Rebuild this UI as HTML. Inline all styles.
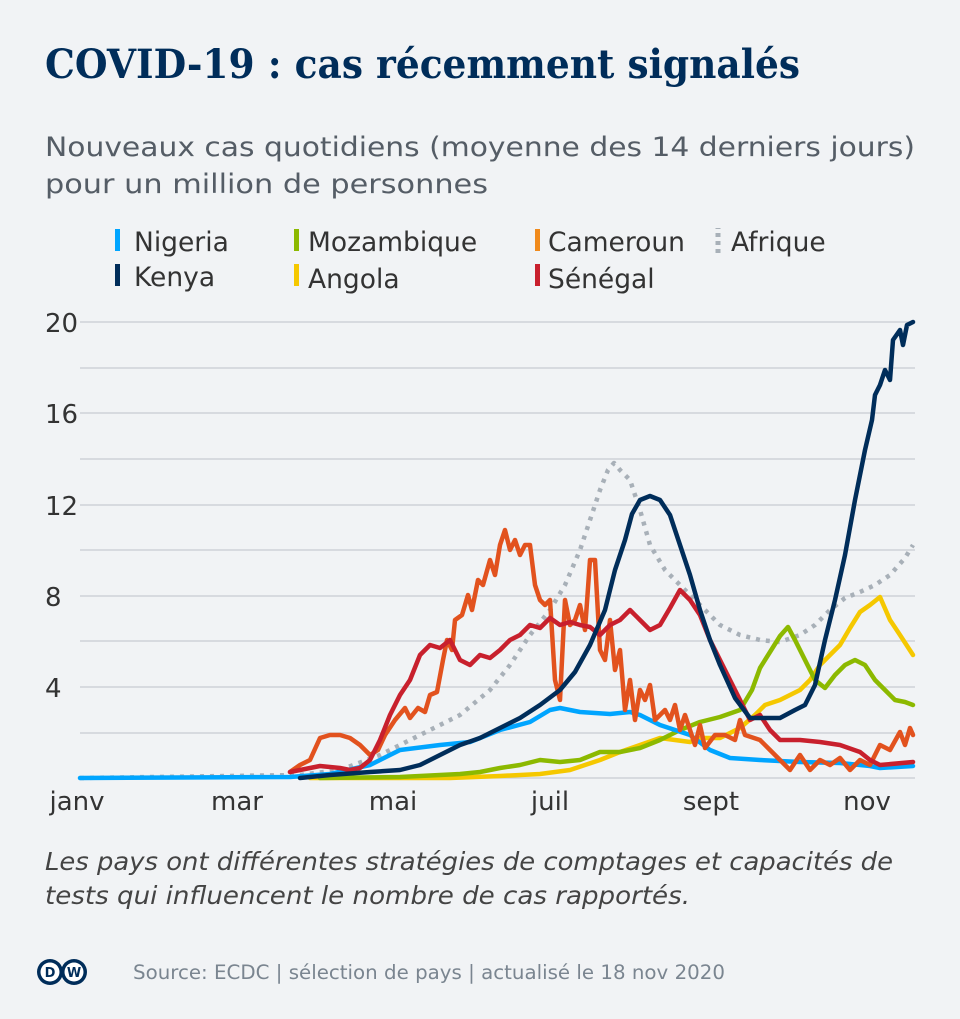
<!DOCTYPE html><html><head><meta charset="utf-8"><style>
body{margin:0;background:#f1f3f5;width:960px;height:1019px;overflow:hidden;font-family:"DejaVu Sans","Liberation Sans",sans-serif;}
</style></head><body>
<svg width="960" height="1019" xmlns="http://www.w3.org/2000/svg" style="position:absolute;left:0;top:0">
<rect width="960" height="1019" fill="#f1f3f5"/>
<text x="45" y="78" font-family="'DejaVu Serif','Liberation Serif',serif" font-weight="bold" font-size="40" fill="#002d5a" textLength="755" lengthAdjust="spacingAndGlyphs">COVID-19 : cas récemment signalés</text>
<text x="45" y="156" font-size="27" fill="#555d66" textLength="870" lengthAdjust="spacingAndGlyphs">Nouveaux cas quotidiens (moyenne des 14 derniers jours)</text>
<text x="45" y="193" font-size="27" fill="#555d66" textLength="443" lengthAdjust="spacingAndGlyphs">pour un million de personnes</text>
<g font-size="26.5" fill="#333">
<rect x="115" y="229" width="5" height="22" fill="#00a5ff"/><text x="134" y="251">Nigeria</text>
<rect x="115" y="264" width="5" height="22" fill="#002d5a"/><text x="134" y="286">Kenya</text>
<rect x="294" y="229" width="5" height="22" fill="#8cb900"/><text x="308" y="251">Mozambique</text>
<rect x="294" y="264" width="5" height="22" fill="#f5c800"/><text x="308" y="288">Angola</text>
<rect x="535" y="229" width="5" height="22" fill="#f08a1c"/><text x="548" y="251">Cameroun</text>
<rect x="535" y="264" width="5" height="22" fill="#c8202d"/><text x="548" y="288">Sénégal</text>
<line x1="718" y1="253" x2="718" y2="228" stroke="#a8b0b8" stroke-width="5" stroke-dasharray="4,4"/><text x="731" y="251">Afrique</text>
</g>
<g stroke="#c8ccd2" stroke-width="1.2">
<line x1="80" y1="322" x2="915" y2="322"/><line x1="80" y1="368" x2="915" y2="368"/>
<line x1="80" y1="413" x2="915" y2="413"/><line x1="80" y1="459" x2="915" y2="459"/>
<line x1="80" y1="505" x2="915" y2="505"/><line x1="80" y1="550" x2="915" y2="550"/>
<line x1="80" y1="596" x2="915" y2="596"/><line x1="80" y1="641" x2="915" y2="641"/>
<line x1="80" y1="687" x2="915" y2="687"/><line x1="80" y1="733" x2="915" y2="733"/>
<line x1="80" y1="778" x2="915" y2="778"/>
</g>
<g font-size="26" fill="#333">
<text x="45" y="332">20</text><text x="45" y="423">16</text><text x="45" y="515">12</text>
<text x="45" y="606">8</text><text x="45" y="697">4</text>
</g>
<g font-size="26" fill="#333" text-anchor="middle">
<text x="77" y="810">janv</text><text x="237" y="810">mar</text><text x="393" y="810">mai</text>
<text x="550" y="810">juil</text><text x="711" y="810">sept</text><text x="867" y="810">nov</text>
</g>
<g fill="none" stroke-width="4.5" stroke-linejoin="round" stroke-linecap="round">
<polyline stroke="#a8b0b8" stroke-dasharray="4,6" stroke-linecap="butt" points="80,778 300,775 340,770 380,755 420,735 460,715 490,690 510,665 530,635 550,610 565,585 580,550 590,520 600,490 608,470 614,463 620,470 630,480 640,510 650,545 665,570 680,585 700,605 720,625 740,635 760,640 780,642 800,635 815,625 830,610 845,598 860,592 875,585 890,575 905,558 913,545"/>
<polyline stroke="#f5c800" points="310,778 450,778 500,776 540,774 570,770 600,760 620,752 640,745 660,738 675,740 690,742 700,738 720,738 740,728 755,715 765,705 780,700 790,695 800,690 810,680 820,665 830,655 840,645 850,628 860,612 870,605 880,597 890,620 900,635 913,655"/>
<polyline stroke="#8cb900" points="320,778 400,777 460,774 480,772 500,768 520,765 540,760 560,762 580,760 600,752 620,752 640,748 660,740 680,730 700,722 720,717 740,710 752,690 760,668 770,652 780,636 788,627 795,640 805,660 815,680 825,688 835,675 845,665 855,660 865,665 875,680 885,690 895,700 905,702 913,705"/>
<polyline stroke="#00a5ff" points="80,778 290,777 330,774 370,765 400,750 440,745 470,742 500,730 530,722 550,710 560,708 580,712 610,714 630,712 640,715 660,725 690,735 710,750 730,758 760,760 800,762 840,763 870,766 880,768 913,766"/>
<polyline stroke="#e2521e" points="290,772 300,765 310,760 320,738 330,735 340,735 350,738 360,745 370,755 378,750 385,735 395,720 405,708 410,718 418,708 425,712 430,695 437,692 443,660 447,640 452,650 455,620 462,615 468,595 472,610 478,580 483,585 490,560 495,575 500,545 505,530 510,550 515,540 520,555 525,545 530,545 535,585 540,600 545,605 550,600 555,680 560,700 565,600 570,625 575,620 580,605 585,630 590,560 595,560 600,650 605,660 610,620 615,670 620,650 625,710 630,680 635,720 640,690 645,700 650,685 655,720 660,715 665,710 670,720 675,705 680,730 685,715 695,745 700,725 705,748 715,735 725,735 735,740 740,720 745,735 760,740 770,750 780,760 790,770 800,755 810,770 820,760 830,765 840,758 850,770 860,760 870,765 880,745 890,750 900,732 905,745 910,728 913,735"/>
<polyline stroke="#c8202d" points="290,772 300,770 310,768 320,766 340,768 350,770 360,768 370,760 380,740 390,715 400,695 410,680 420,655 430,645 440,648 450,640 460,660 470,665 480,655 490,658 500,650 510,640 520,635 530,625 540,628 550,618 560,625 570,622 580,625 590,627 600,635 610,625 620,620 630,610 640,620 650,630 660,625 670,608 680,590 690,600 700,615 710,640 720,660 730,680 740,700 750,720 760,715 770,730 780,740 800,740 820,742 840,745 860,752 870,760 880,765 913,762"/>
<polyline stroke="#002d5a" points="300,778 330,775 370,772 400,770 420,765 440,755 460,745 480,738 500,728 520,718 540,705 560,690 575,672 590,645 605,610 615,570 625,540 632,514 640,500 650,496 660,500 670,515 680,545 690,575 700,610 710,640 720,665 735,698 750,718 760,718 780,718 795,710 805,705 815,685 825,640 835,600 845,555 855,500 865,450 872,420 875,395 880,385 885,370 890,380 893,340 900,330 903,345 907,325 913,322"/>
</g>
<g font-size="25" font-style="italic" fill="#444">
<text x="45" y="870" textLength="848" lengthAdjust="spacingAndGlyphs">Les pays ont différentes stratégies de comptages et capacités de</text>
<text x="45" y="904" textLength="645" lengthAdjust="spacingAndGlyphs">tests qui influencent le nombre de cas rapportés.</text>
</g>
<circle cx="50" cy="972" r="13" fill="#002d5a"/><circle cx="74" cy="972" r="13" fill="#002d5a"/>
<circle cx="50" cy="972" r="9.5" fill="#fff"/><circle cx="74" cy="972" r="9.5" fill="#fff"/>
<text x="50" y="977" font-size="13" font-weight="bold" fill="#002d5a" text-anchor="middle">D</text>
<text x="74" y="977" font-size="13" font-weight="bold" fill="#002d5a" text-anchor="middle">W</text>
<text x="133" y="979" font-size="19.5" fill="#7a8590" textLength="592" lengthAdjust="spacingAndGlyphs">Source: ECDC | sélection de pays | actualisé le 18 nov 2020</text>
</svg>
</body></html>
